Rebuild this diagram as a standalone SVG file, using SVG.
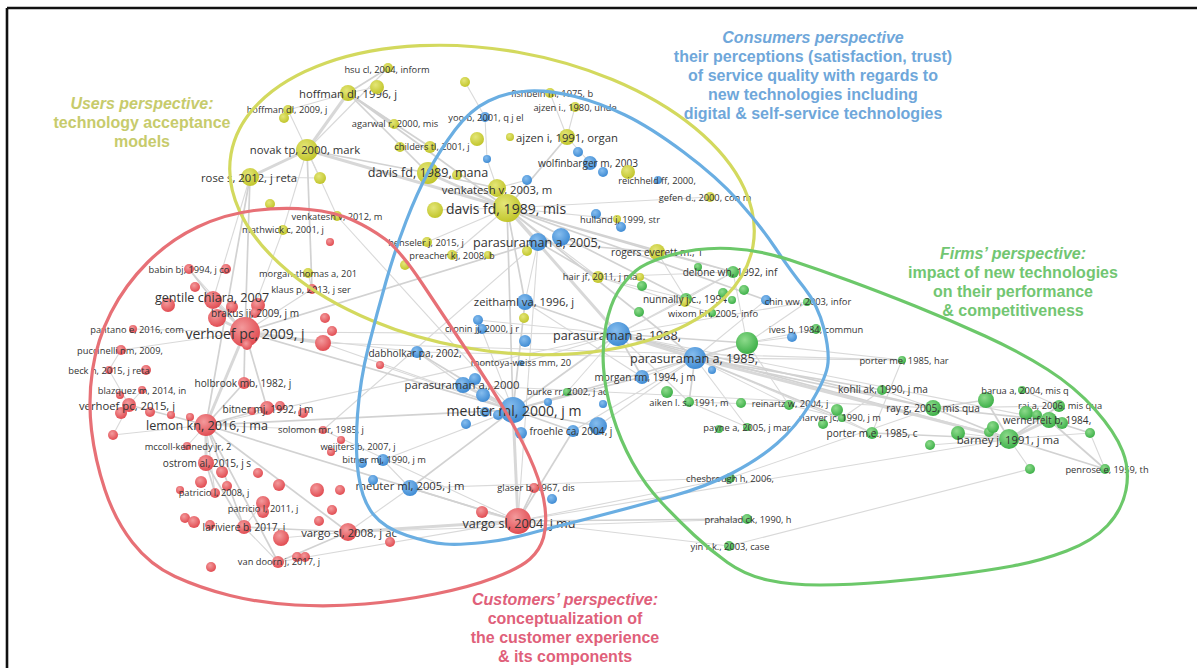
<svg xmlns="http://www.w3.org/2000/svg" width="1200" height="668" viewBox="0 0 1200 668">
<defs>
<radialGradient id="gR" cx="0.4" cy="0.35" r="0.7"><stop offset="0" stop-color="#f39a9c"/><stop offset="1" stop-color="#e0474d"/></radialGradient>
<radialGradient id="gB" cx="0.4" cy="0.35" r="0.7"><stop offset="0" stop-color="#86bdee"/><stop offset="1" stop-color="#3a88d2"/></radialGradient>
<radialGradient id="gG" cx="0.4" cy="0.35" r="0.7"><stop offset="0" stop-color="#8edb8c"/><stop offset="1" stop-color="#38ad44"/></radialGradient>
<radialGradient id="gY" cx="0.4" cy="0.35" r="0.7"><stop offset="0" stop-color="#e4e678"/><stop offset="1" stop-color="#bfc326"/></radialGradient>
<style>
.e{stroke:#d9d9d9;stroke-width:1.1}
.e2{stroke:#d2d2d2;stroke-width:1.7}
.e3{stroke:#d8d8d8;stroke-width:3}
.R{fill:url(#gR)}.B{fill:url(#gB)}.G{fill:url(#gG)}.Y{fill:url(#gY)}
text.l{font-family:"Open Sans","DejaVu Sans",sans-serif;fill:#333;text-anchor:middle;dominant-baseline:central}
.t9{font-size:9.3px}.t10{font-size:10.1px}.t11{font-size:11.3px}.t12{font-size:12.6px}.t14{font-size:14px}
.hd{font-family:"Liberation Sans",Arial,sans-serif;font-weight:bold;font-size:16px;text-anchor:middle}
.it{font-style:italic}
.cl{fill:none;stroke-width:3.2}
</style>
</defs>
<rect width="1200" height="668" fill="#fff"/>
<g id="frame" stroke="#111" stroke-width="2.6">
<line x1="7" y1="8" x2="1197" y2="8"/>
<line x1="7" y1="8" x2="7" y2="668"/>
</g>
<g id="connectors">
<g class="e">
<line x1="567" y1="137" x2="575" y2="107"/><line x1="567" y1="137" x2="550" y2="93"/><line x1="567" y1="137" x2="590" y2="163"/>
<line x1="497" y1="188" x2="527" y2="180"/><line x1="507" y1="208" x2="617" y2="219"/><line x1="507" y1="208" x2="710" y2="197"/>
<line x1="507" y1="208" x2="452" y2="255"/><line x1="507" y1="208" x2="427" y2="242"/><line x1="507" y1="208" x2="435" y2="210"/>
<line x1="507" y1="208" x2="598" y2="277"/><line x1="465" y1="82" x2="485" y2="117"/><line x1="485" y1="117" x2="487" y2="159"/>
<line x1="487" y1="159" x2="497" y2="188"/><line x1="348" y1="93" x2="377" y2="87"/><line x1="348" y1="93" x2="288" y2="110"/>
<line x1="307" y1="150" x2="288" y2="110"/><line x1="307" y1="150" x2="283" y2="230"/><line x1="307" y1="150" x2="320" y2="178"/>
<line x1="307" y1="150" x2="337" y2="216"/><line x1="307" y1="150" x2="388" y2="68"/><line x1="250" y1="177" x2="320" y2="178"/>
<line x1="250" y1="177" x2="213" y2="300"/><line x1="308" y1="273" x2="312" y2="289"/><line x1="283" y1="230" x2="245" y2="332"/>
<line x1="337" y1="216" x2="513" y2="410"/><line x1="245" y1="332" x2="133" y2="329"/><line x1="245" y1="332" x2="121" y2="350"/>
<line x1="245" y1="332" x2="189" y2="269"/><line x1="245" y1="332" x2="417" y2="352"/><line x1="245" y1="332" x2="312" y2="289"/>
<line x1="245" y1="332" x2="618" y2="334"/><line x1="129" y1="405" x2="121" y2="413"/><line x1="129" y1="405" x2="109" y2="370"/>
<line x1="129" y1="405" x2="142" y2="390"/><line x1="129" y1="405" x2="113" y2="435"/><line x1="121" y1="350" x2="109" y2="370"/>
<line x1="206" y1="425" x2="187" y2="446"/><line x1="206" y1="425" x2="215" y2="493"/><line x1="206" y1="425" x2="113" y2="435"/>
<line x1="206" y1="425" x2="618" y2="334"/><line x1="206" y1="425" x2="323" y2="430"/><line x1="244" y1="527" x2="278" y2="562"/>
<line x1="244" y1="527" x2="263" y2="503"/><line x1="278" y1="562" x2="518" y2="521"/><line x1="348" y1="532" x2="281" y2="538"/>
<line x1="348" y1="532" x2="410" y2="488"/><line x1="348" y1="532" x2="747" y2="519"/><line x1="410" y1="488" x2="383" y2="460"/>
<line x1="410" y1="488" x2="730" y2="478"/><line x1="518" y1="521" x2="729" y2="546"/><line x1="518" y1="521" x2="730" y2="478"/>
<line x1="518" y1="521" x2="482" y2="512"/><line x1="518" y1="521" x2="1009" y2="439"/><line x1="518" y1="521" x2="538" y2="242"/>
<line x1="518" y1="521" x2="323" y2="430"/><line x1="463" y1="385" x2="933" y2="408"/><line x1="463" y1="385" x2="417" y2="352"/>
<line x1="417" y1="352" x2="695" y2="358"/><line x1="323" y1="343" x2="902" y2="360"/><line x1="380" y1="365" x2="513" y2="410"/>
<line x1="323" y1="343" x2="513" y2="410"/><line x1="323" y1="430" x2="538" y2="242"/><line x1="383" y1="460" x2="513" y2="410"/>
<line x1="478" y1="320" x2="513" y2="410"/><line x1="478" y1="320" x2="618" y2="334"/><line x1="525" y1="302" x2="538" y2="242"/>
<line x1="525" y1="302" x2="642" y2="377"/><line x1="521" y1="363" x2="618" y2="334"/><line x1="567" y1="392" x2="618" y2="334"/>
<line x1="573" y1="431" x2="695" y2="358"/><line x1="598" y1="426" x2="695" y2="358"/><line x1="642" y1="377" x2="695" y2="358"/>
<line x1="618" y1="334" x2="733" y2="272"/><line x1="618" y1="334" x2="686" y2="299"/><line x1="618" y1="334" x2="689" y2="402"/>
<line x1="618" y1="334" x2="1049" y2="420"/><line x1="618" y1="334" x2="807" y2="302"/><line x1="657" y1="252" x2="733" y2="272"/>
<line x1="657" y1="252" x2="686" y2="299"/><line x1="598" y1="277" x2="686" y2="299"/><line x1="598" y1="277" x2="733" y2="272"/>
<line x1="598" y1="277" x2="712" y2="313"/><line x1="686" y1="299" x2="733" y2="272"/><line x1="747" y1="343" x2="816" y2="329"/>
<line x1="747" y1="343" x2="792" y2="337"/><line x1="747" y1="343" x2="902" y2="360"/><line x1="747" y1="343" x2="789" y2="405"/>
<line x1="747" y1="343" x2="733" y2="272"/><line x1="747" y1="343" x2="807" y2="302"/><line x1="695" y1="358" x2="902" y2="360"/>
<line x1="695" y1="358" x2="789" y2="405"/><line x1="695" y1="358" x2="747" y2="427"/><line x1="695" y1="358" x2="872" y2="433"/>
<line x1="902" y1="360" x2="872" y2="433"/><line x1="872" y1="433" x2="842" y2="418"/><line x1="933" y1="408" x2="1059" y2="406"/>
<line x1="933" y1="408" x2="882" y2="390"/><line x1="1009" y1="439" x2="1090" y2="433"/><line x1="1009" y1="439" x2="930" y2="445"/>
<line x1="1009" y1="439" x2="958" y2="433"/><line x1="1009" y1="439" x2="1030" y2="469"/><line x1="1030" y1="469" x2="729" y2="546"/>
<line x1="1105" y1="469" x2="1090" y2="433"/><line x1="1059" y1="406" x2="1022" y2="390"/><line x1="689" y1="402" x2="789" y2="405"/>
<line x1="689" y1="402" x2="747" y2="427"/><line x1="882" y1="390" x2="842" y2="418"/><line x1="789" y1="405" x2="842" y2="418"/>
<line x1="730" y1="478" x2="933" y2="408"/><line x1="766" y1="300" x2="695" y2="358"/>
</g>
<g class="e2">
<line x1="507" y1="208" x2="567" y2="137"/><line x1="507" y1="208" x2="348" y2="93"/><line x1="507" y1="208" x2="657" y2="252"/>
<line x1="507" y1="208" x2="733" y2="272"/><line x1="507" y1="208" x2="686" y2="299"/><line x1="507" y1="208" x2="766" y2="300"/>
<line x1="507" y1="208" x2="695" y2="358"/><line x1="507" y1="208" x2="513" y2="410"/><line x1="507" y1="208" x2="525" y2="302"/>
<line x1="428" y1="173" x2="307" y2="150"/><line x1="428" y1="173" x2="348" y2="93"/><line x1="428" y1="173" x2="497" y2="188"/>
<line x1="348" y1="93" x2="388" y2="68"/><line x1="348" y1="93" x2="394" y2="124"/><line x1="348" y1="93" x2="430" y2="147"/>
<line x1="307" y1="150" x2="312" y2="289"/><line x1="250" y1="177" x2="245" y2="332"/><line x1="250" y1="177" x2="206" y2="425"/>
<line x1="245" y1="332" x2="244" y2="383"/><line x1="245" y1="332" x2="267" y2="408"/><line x1="245" y1="332" x2="538" y2="242"/>
<line x1="245" y1="332" x2="513" y2="410"/><line x1="206" y1="425" x2="129" y2="405"/><line x1="206" y1="425" x2="267" y2="408"/>
<line x1="206" y1="425" x2="244" y2="527"/><line x1="206" y1="425" x2="278" y2="562"/><line x1="206" y1="425" x2="348" y2="532"/>
<line x1="206" y1="425" x2="513" y2="410"/><line x1="206" y1="425" x2="518" y2="521"/><line x1="206" y1="425" x2="244" y2="383"/>
<line x1="518" y1="521" x2="534" y2="488"/><line x1="518" y1="521" x2="410" y2="488"/><line x1="518" y1="521" x2="747" y2="519"/>
<line x1="518" y1="521" x2="573" y2="431"/><line x1="513" y1="410" x2="573" y2="431"/><line x1="513" y1="410" x2="598" y2="426"/>
<line x1="513" y1="410" x2="618" y2="334"/><line x1="513" y1="410" x2="695" y2="358"/><line x1="513" y1="410" x2="410" y2="488"/>
<line x1="513" y1="410" x2="417" y2="352"/><line x1="513" y1="410" x2="525" y2="302"/><line x1="513" y1="410" x2="642" y2="377"/>
<line x1="618" y1="334" x2="525" y2="302"/><line x1="618" y1="334" x2="642" y2="377"/><line x1="618" y1="334" x2="747" y2="343"/>
<line x1="618" y1="334" x2="1009" y2="439"/><line x1="618" y1="334" x2="933" y2="408"/><line x1="695" y1="358" x2="747" y2="343"/>
<line x1="695" y1="358" x2="933" y2="408"/><line x1="695" y1="358" x2="882" y2="390"/><line x1="695" y1="358" x2="842" y2="418"/>
<line x1="695" y1="358" x2="689" y2="402"/><line x1="1009" y1="439" x2="1059" y2="406"/><line x1="1009" y1="439" x2="986" y2="400"/>
<line x1="1009" y1="439" x2="1105" y2="469"/><line x1="1009" y1="439" x2="933" y2="408"/><line x1="1009" y1="439" x2="872" y2="433"/>
<line x1="933" y1="408" x2="986" y2="400"/><line x1="933" y1="408" x2="1049" y2="420"/><line x1="1049" y1="420" x2="1105" y2="469"/>
<line x1="1049" y1="420" x2="1090" y2="433"/><line x1="348" y1="532" x2="278" y2="562"/><line x1="348" y1="532" x2="244" y2="527"/>
<line x1="206" y1="463" x2="215" y2="493"/><line x1="206" y1="463" x2="244" y2="527"/><line x1="213" y1="300" x2="189" y2="269"/>
<line x1="538" y1="242" x2="598" y2="277"/><line x1="538" y1="242" x2="657" y2="252"/>
</g>
<g class="e3">
<line x1="507" y1="208" x2="428" y2="173"/><line x1="507" y1="208" x2="497" y2="188"/><line x1="507" y1="208" x2="538" y2="242"/>
<line x1="507" y1="208" x2="307" y2="150"/><line x1="307" y1="150" x2="348" y2="93"/><line x1="307" y1="150" x2="250" y2="177"/>
<line x1="245" y1="332" x2="206" y2="425"/><line x1="245" y1="332" x2="213" y2="300"/><line x1="245" y1="332" x2="217" y2="318"/>
<line x1="206" y1="425" x2="206" y2="463"/><line x1="513" y1="410" x2="463" y2="385"/><line x1="513" y1="410" x2="518" y2="521"/>
<line x1="618" y1="334" x2="695" y2="358"/><line x1="695" y1="358" x2="1009" y2="439"/><line x1="1009" y1="439" x2="1049" y2="420"/>
<line x1="518" y1="521" x2="348" y2="532"/><line x1="245" y1="332" x2="323" y2="343"/><line x1="618" y1="334" x2="507" y2="208"/>
</g>
</g>
<g id="nodes">
<g id="n-hsu"><circle class="Y" cx="388" cy="68" r="5"/><text class="l t9" x="387" y="69">hsu cl, 2004, inform</text></g>
<g id="n-hoffman96"><circle class="Y" cx="348" cy="93" r="8"/><text class="l t11" x="348" y="93">hoffman dl, 1996, j</text></g>
<g id="n-y3"><circle class="Y" cx="377" cy="87" r="7"/></g>
<g id="n-hoffman09"><circle class="Y" cx="288" cy="110" r="5"/><circle class="Y" cx="284" cy="118" r="5"/><text class="l t9" x="287" y="109">hoffman dl, 2009, j</text></g>
<g id="n-y6"><circle class="Y" cx="465" cy="82" r="5"/></g>
<g id="n-agarwal"><circle class="Y" cx="394" cy="124" r="5"/><text class="l t9" x="395" y="123">agarwal r, 2000, mis</text></g>
<g id="n-novak"><circle class="Y" cx="307" cy="150" r="11"/><text class="l t11" x="305" y="149">novak tp, 2000, mark</text></g>
<g id="n-y10"><circle class="Y" cx="477" cy="139" r="7"/></g>
<g id="n-childers"><circle class="Y" cx="400" cy="147" r="5"/><circle class="Y" cx="430" cy="147" r="6"/><text class="l t9" x="432" y="146">childers tl, 2001, j</text></g>
<g id="n-rose"><circle class="Y" cx="250" cy="177" r="9"/><text class="l t11" x="249" y="177">rose s, 2012, j reta</text></g>
<g id="n-y13"><circle class="Y" cx="320" cy="178" r="6"/></g>
<g id="n-davismana"><circle class="Y" cx="428" cy="173" r="11"/><circle class="Y" cx="457" cy="175" r="5"/><text class="l t12" x="428" y="172">davis fd, 1989, mana</text></g>
<g id="n-b2"><circle class="B" cx="487" cy="159" r="4"/></g>
<g id="n-b3"><circle class="B" cx="527" cy="180" r="5"/></g>
<g id="n-venkatesh03"><circle class="Y" cx="497" cy="188" r="9"/><text class="l t11" x="497" y="189">venkatesh v, 2003, m</text></g>
<g id="n-y18"><circle class="Y" cx="435" cy="210" r="8"/></g>
<g id="n-davismis"><circle class="Y" cx="507" cy="208" r="14"/><text class="l t14" x="506" y="208">davis fd, 1989, mis</text></g>
<g id="n-ajzen91"><circle class="Y" cx="510" cy="137" r="4"/><circle class="Y" cx="567" cy="137" r="8"/><text class="l t11" x="567" y="137">ajzen i, 1991, organ</text></g>
<g id="n-yoo"><circle class="B" cx="485" cy="117" r="5"/><text class="l t9" x="486" y="117">yoo b, 2001, q j el</text></g>
<g id="n-fishbein"><circle class="Y" cx="550" cy="93" r="5"/><text class="l t9" x="552" y="93">fishbein m, 1975, b</text></g>
<g id="n-ajzen80"><circle class="Y" cx="575" cy="107" r="5"/><text class="l t9" x="575" y="107">ajzen i., 1980, unde</text></g>
<g id="n-b4"><circle class="B" cx="578" cy="152" r="5"/></g>
<g id="n-wolfinbarger"><circle class="B" cx="590" cy="163" r="7"/><circle class="B" cx="603" cy="172" r="5"/><text class="l t10" x="588" y="163">wolfinbarger m, 2003</text></g>
<g id="n-y23"><circle class="Y" cx="628" cy="172" r="7"/></g>
<g id="n-reichheld"><circle class="B" cx="658" cy="180" r="4"/><text class="l t9" x="657" y="180">reichheld ff, 2000,</text></g>
<g id="n-gefen"><circle class="Y" cx="710" cy="197" r="5"/><text class="l t9" x="705" y="197">gefen d., 2000, con m</text></g>
<g id="n-hulland"><circle class="B" cx="596" cy="214" r="5"/><circle class="B" cx="621" cy="227" r="5"/><circle class="Y" cx="617" cy="219" r="4"/><text class="l t9" x="620" y="219">hulland j, 1999, str</text></g>
<g id="n-venkatesh12"><circle class="Y" cx="270" cy="204" r="5"/><circle class="Y" cx="337" cy="216" r="5"/><text class="l t9" x="337" y="216">venkatesh v, 2012, m</text></g>
<g id="n-mathwick"><circle class="Y" cx="283" cy="230" r="5"/><text class="l t9" x="283" y="229">mathwick c, 2001, j</text></g>
<g id="n-r1"><circle class="R" cx="330" cy="242" r="4"/></g>
<g id="n-henseler"><circle class="Y" cx="427" cy="242" r="5"/><text class="l t9" x="426" y="242">henseler j, 2015, j</text></g>
<g id="n-preacher"><circle class="Y" cx="452" cy="255" r="5"/><circle class="Y" cx="488" cy="255" r="4"/><text class="l t9" x="452" y="255">preacher kj, 2008, b</text></g>
<g id="n-y29"><circle class="Y" cx="405" cy="265" r="5"/></g>
<g id="n-y30"><circle class="Y" cx="527" cy="251" r="5"/></g>
<g id="n-parasuraman05"><circle class="B" cx="538" cy="242" r="9"/><circle class="B" cx="561" cy="237" r="9"/><text class="l t12" x="537" y="242">parasuraman a, 2005,</text></g>
<g id="n-rogers"><circle class="Y" cx="657" cy="252" r="8"/><text class="l t10" x="657" y="252">rogers everett m., 1</text></g>
<g id="n-hair"><circle class="Y" cx="598" cy="277" r="6"/><circle class="Y" cx="640" cy="277" r="4"/><text class="l t9" x="600" y="276">hair jf, 2011, j ma</text></g>
<g id="n-babin"><circle class="R" cx="189" cy="269" r="5"/><circle class="R" cx="226" cy="269" r="5"/><text class="l t9" x="189" y="269">babin bj, 1994, j co</text></g>
<g id="n-morganthomas"><circle class="Y" cx="308" cy="273" r="5"/><text class="l t9" x="308" y="273">morgan-thomas a, 201</text></g>
<g id="n-klaus"><circle class="R" cx="312" cy="289" r="5"/><text class="l t9" x="311" y="289">klaus p, 2013, j ser</text></g>
<g id="n-gentile"><circle class="R" cx="195" cy="287" r="5"/><circle class="R" cx="168" cy="305" r="7"/><circle class="R" cx="213" cy="300" r="9"/><circle class="R" cx="232" cy="307" r="6"/><circle class="R" cx="258" cy="305" r="7"/><text class="l t12" x="212" y="297">gentile chiara, 2007</text></g>
<g id="n-brakus"><circle class="R" cx="217" cy="318" r="9"/><circle class="R" cx="255" cy="313" r="5"/><text class="l t10" x="255" y="313">brakus jj, 2009, j m</text></g>
<g id="n-r13"><circle class="R" cx="325" cy="318" r="5"/><circle class="R" cx="332" cy="331" r="5"/></g>
<g id="n-r15"><circle class="R" cx="323" cy="343" r="8"/></g>
<g id="n-verhoef09"><circle class="R" cx="245" cy="332" r="15"/><circle class="R" cx="247" cy="345" r="5"/><text class="l t14" x="245" y="333">verhoef pc, 2009, j</text></g>
<g id="n-pantano"><circle class="R" cx="133" cy="329" r="4"/><text class="l t9" x="137" y="329">pantano e, 2016, com</text></g>
<g id="n-puccinelli"><circle class="R" cx="121" cy="350" r="5"/><text class="l t9" x="120" y="350">puccinelli nm, 2009,</text></g>
<g id="n-beck"><circle class="R" cx="109" cy="370" r="4"/><circle class="R" cx="146" cy="370" r="5"/><text class="l t9" x="109" y="370">beck n, 2015, j reta</text></g>
<g id="n-blazquez"><circle class="R" cx="142" cy="390" r="4"/><circle class="R" cx="120" cy="395" r="4"/><text class="l t9" x="142" y="390">blazquez m, 2014, in</text></g>
<g id="n-holbrook"><circle class="R" cx="244" cy="383" r="6"/><text class="l t10" x="243" y="383">holbrook mb, 1982, j</text></g>
<g id="n-r63"><circle class="R" cx="380" cy="365" r="4"/></g>
<g id="n-verhoef15"><circle class="R" cx="121" cy="413" r="6"/><circle class="R" cx="150" cy="412" r="5"/><circle class="R" cx="129" cy="405" r="7"/><text class="l t11" x="127" y="405">verhoef pc, 2015, j</text></g>
<g id="n-r26"><circle class="R" cx="113" cy="435" r="5"/></g>
<g id="n-r27"><circle class="R" cx="171" cy="415" r="4"/><circle class="R" cx="190" cy="417" r="4"/></g>
<g id="n-lemon"><circle class="R" cx="206" cy="425" r="11"/><text class="l t12" x="207" y="425">lemon kn, 2016, j ma</text></g>
<g id="n-bitner92"><circle class="R" cx="252" cy="411" r="4"/><circle class="R" cx="267" cy="408" r="7"/><circle class="R" cx="280" cy="406" r="5"/><circle class="R" cx="303" cy="413" r="5"/><text class="l t10" x="268" y="409">bitner mj, 1992, j m</text></g>
<g id="n-solomon"><circle class="R" cx="323" cy="430" r="4"/><text class="l t9" x="321" y="429">solomon mr, 1985, j</text></g>
<g id="n-r35"><circle class="R" cx="341" cy="440" r="4"/></g>
<g id="n-weijters"><circle class="R" cx="331" cy="452" r="4"/><text class="l t9" x="358" y="446">weijters b, 2007, j</text></g>
<g id="n-mccoll"><circle class="R" cx="187" cy="446" r="4"/><text class="l t9" x="188" y="446">mccoll-kennedy jr, 2</text></g>
<g id="n-ostrom"><circle class="R" cx="206" cy="463" r="8"/><circle class="R" cx="222" cy="472" r="6"/><text class="l t10" x="207" y="463">ostrom al, 2015, j s</text></g>
<g id="n-r40"><circle class="R" cx="258" cy="473" r="5"/><circle class="R" cx="201" cy="482" r="6"/><circle class="R" cx="227" cy="486" r="5"/><circle class="R" cx="180" cy="490" r="4"/></g>
<g id="n-patricio08"><circle class="R" cx="215" cy="493" r="5"/><text class="l t9" x="214" y="492">patricio l, 2008, j</text></g>
<g id="n-r45"><circle class="R" cx="279" cy="485" r="6"/><circle class="R" cx="317" cy="490" r="7"/><circle class="R" cx="340" cy="490" r="5"/><circle class="R" cx="332" cy="510" r="5"/></g>
<g id="n-patricio11"><circle class="R" cx="263" cy="503" r="7"/><circle class="R" cx="263" cy="512" r="6"/><text class="l t9" x="263" y="508">patricio l, 2011, j</text></g>
<g id="n-r51"><circle class="R" cx="185" cy="518" r="5"/><circle class="R" cx="194" cy="522" r="6"/><circle class="R" cx="210" cy="525" r="5"/><circle class="R" cx="319" cy="521" r="5"/></g>
<g id="n-lariviere"><circle class="R" cx="244" cy="527" r="7"/><text class="l t10" x="244" y="527">lariviere b, 2017, j</text></g>
<g id="n-r57"><circle class="R" cx="281" cy="538" r="8"/></g>
<g id="n-vargo08"><circle class="R" cx="348" cy="532" r="9"/><text class="l t11" x="349" y="532">vargo sl, 2008, j ac</text></g>
<g id="n-r58"><circle class="R" cx="390" cy="542" r="5"/></g>
<g id="n-vandoorn"><circle class="R" cx="278" cy="562" r="6"/><circle class="R" cx="297" cy="557" r="5"/><circle class="R" cx="305" cy="557" r="5"/><text class="l t9" x="279" y="561">van doorn j, 2017, j</text></g>
<g id="n-r62"><circle class="R" cx="211" cy="567" r="5"/></g>
<g id="n-bitner90"><circle class="B" cx="362" cy="463" r="5"/><circle class="B" cx="383" cy="460" r="6"/><text class="l t9" x="384" y="459">bitner mj, 1990, j m</text></g>
<g id="n-b36"><circle class="B" cx="373" cy="480" r="5"/></g>
<g id="n-meuter05"><circle class="B" cx="410" cy="488" r="8"/><text class="l t11" x="410" y="485">meuter ml, 2005, j m</text></g>
<g id="n-zeithaml"><circle class="B" cx="525" cy="302" r="8"/><text class="l t11" x="524" y="301">zeithaml va, 1996, j</text></g>
<g id="n-y38"><circle class="Y" cx="524" cy="318" r="5"/></g>
<g id="n-cronin"><circle class="B" cx="478" cy="320" r="5"/><circle class="B" cx="482" cy="329" r="5"/><text class="l t9" x="482" y="328">cronin jj, 2000, j r</text></g>
<g id="n-b15"><circle class="B" cx="525" cy="341" r="6"/></g>
<g id="n-parasuraman88"><circle class="B" cx="618" cy="334" r="12"/><text class="l t12" x="617" y="335">parasuraman a, 1988,</text></g>
<g id="n-dabholkar"><circle class="B" cx="417" cy="352" r="6"/><text class="l t10" x="415" y="353">dabholkar pa, 2002,</text></g>
<g id="n-montoya"><circle class="B" cx="521" cy="363" r="3"/><text class="l t9" x="521" y="362">montoya-weiss mm, 20</text></g>
<g id="n-parasuraman85"><circle class="B" cx="712" cy="370" r="4"/><circle class="B" cx="695" cy="358" r="11"/><text class="l t12" x="694" y="358">parasuraman a, 1985,</text></g>
<g id="n-parasuraman00"><circle class="B" cx="475" cy="379" r="6"/><circle class="B" cx="463" cy="385" r="8"/><circle class="B" cx="483" cy="395" r="7"/><text class="l t11" x="462" y="384">parasuraman a., 2000</text></g>
<g id="n-morgan"><circle class="B" cx="642" cy="377" r="7"/><text class="l t10" x="645" y="377">morgan rm, 1994, j m</text></g>
<g id="n-b25"><circle class="B" cx="548" cy="402" r="4"/><circle class="B" cx="603" cy="404" r="4"/></g>
<g id="n-burke"><circle class="G" cx="567" cy="392" r="4"/><text class="l t9" x="567" y="391">burke rr, 2002, j ac</text></g>
<g id="n-meuter00"><circle class="B" cx="466" cy="424" r="5"/><circle class="B" cx="485" cy="412" r="5"/><circle class="B" cx="498" cy="415" r="5"/><circle class="B" cx="513" cy="410" r="13"/><text class="l t14" x="514" y="410">meuter ml, 2000, j m</text></g>
<g id="n-b33"><circle class="B" cx="521" cy="433" r="6"/></g>
<g id="n-froehle"><circle class="B" cx="598" cy="426" r="9"/><circle class="B" cx="573" cy="431" r="6"/><text class="l t10" x="571" y="431">froehle ca, 2004, j</text></g>
<g id="n-glaser"><circle class="R" cx="534" cy="488" r="5"/><circle class="B" cx="552" cy="499" r="5"/><text class="l t9" x="536" y="487">glaser b, 1967, dis</text></g>
<g id="n-r65"><circle class="R" cx="482" cy="512" r="6"/></g>
<g id="n-vargo04"><circle class="R" cx="518" cy="521" r="13"/><text class="l t12" x="519" y="523">vargo sl, 2004, j mu</text></g>
<g id="n-g1"><circle class="G" cx="698" cy="267" r="4"/><circle class="G" cx="642" cy="286" r="5"/><circle class="G" cx="639" cy="312" r="5"/></g>
<g id="n-delone"><circle class="G" cx="733" cy="272" r="6"/><text class="l t10" x="730" y="272">delone wh, 1992, inf</text></g>
<g id="n-g4"><circle class="G" cx="723" cy="293" r="5"/><circle class="G" cx="744" cy="290" r="5"/><circle class="G" cx="732" cy="300" r="4"/></g>
<g id="n-nunnally"><circle class="G" cx="686" cy="299" r="6"/><circle class="Y" cx="685" cy="302" r="5"/><text class="l t10" x="685" y="299">nunnally j.c., 1994</text></g>
<g id="n-wixom"><circle class="G" cx="712" cy="313" r="4"/><text class="l t9" x="713" y="313">wixom bh, 2005, info</text></g>
<g id="n-chin"><circle class="B" cx="766" cy="300" r="5"/><circle class="G" cx="807" cy="302" r="4"/><text class="l t9" x="808" y="301">chin ww, 2003, infor</text></g>
<g id="n-ives"><circle class="B" cx="792" cy="337" r="5"/><circle class="G" cx="816" cy="329" r="5"/><text class="l t9" x="816" y="329">ives b, 1984, commun</text></g>
<g id="n-g12"><circle class="G" cx="747" cy="343" r="11"/></g>
<g id="n-porterme"><circle class="G" cx="902" cy="360" r="4"/><text class="l t9" x="904" y="360">porter me, 1985, har</text></g>
<g id="n-g14"><circle class="G" cx="667" cy="392" r="6"/><circle class="G" cx="741" cy="403" r="5"/><circle class="G" cx="719" cy="429" r="4"/></g>
<g id="n-aiken"><circle class="G" cx="689" cy="402" r="5"/><text class="l t9" x="689" y="402">aiken l. s., 1991, m</text></g>
<g id="n-reinartz"><circle class="G" cx="789" cy="405" r="5"/><text class="l t9" x="790" y="403">reinartz w, 2004, j</text></g>
<g id="n-g18"><circle class="G" cx="837" cy="410" r="6"/><circle class="G" cx="823" cy="424" r="5"/></g>
<g id="n-narver"><circle class="G" cx="842" cy="418" r="4"/><text class="l t9" x="840" y="417">narver jc, 1990, j m</text></g>
<g id="n-payne"><circle class="G" cx="747" cy="427" r="4"/><text class="l t9" x="747" y="427">payne a, 2005, j mar</text></g>
<g id="n-kohli"><circle class="G" cx="882" cy="390" r="5"/><text class="l t10" x="883" y="389">kohli ak, 1990, j ma</text></g>
<g id="n-ray"><circle class="G" cx="933" cy="408" r="8"/><text class="l t10" x="933" y="408">ray g, 2005, mis qua</text></g>
<g id="n-porterme2"><circle class="G" cx="872" cy="433" r="6"/><text class="l t10" x="872" y="433">porter m.e., 1985, c</text></g>
<g id="n-g26"><circle class="G" cx="930" cy="445" r="5"/></g>
<g id="n-g35"><circle class="G" cx="958" cy="433" r="7"/><circle class="G" cx="989" cy="432" r="5"/><circle class="G" cx="993" cy="427" r="6"/></g>
<g id="n-barua"><circle class="G" cx="986" cy="400" r="8"/><circle class="G" cx="1022" cy="390" r="4"/><text class="l t9" x="1025" y="390">barua a, 2004, mis q</text></g>
<g id="n-rai"><circle class="G" cx="1059" cy="406" r="6"/><text class="l t9" x="1060" y="405">rai a, 2006, mis qua</text></g>
<g id="n-wernerfelt"><circle class="G" cx="1026" cy="413" r="7"/><circle class="G" cx="1037" cy="415" r="5"/><circle class="G" cx="1049" cy="420" r="8"/><circle class="G" cx="1062" cy="423" r="6"/><text class="l t10" x="1047" y="420">wernerfelt b, 1984,</text></g>
<g id="n-g36"><circle class="G" cx="1090" cy="433" r="5"/></g>
<g id="n-barney"><circle class="G" cx="1009" cy="439" r="10"/><text class="l t11" x="1008" y="439">barney j, 1991, j ma</text></g>
<g id="n-g38"><circle class="G" cx="1030" cy="469" r="5"/></g>
<g id="n-penrose"><circle class="G" cx="1105" cy="469" r="5"/><text class="l t9" x="1107" y="469">penrose e, 1959, th</text></g>
<g id="n-chesbrough"><circle class="G" cx="730" cy="478" r="5"/><text class="l t9" x="730" y="478">chesbrough h, 2006,</text></g>
<g id="n-prahalad"><circle class="G" cx="747" cy="519" r="5"/><text class="l t9" x="748" y="519">prahalad ck, 1990, h</text></g>
<g id="n-yin"><circle class="G" cx="729" cy="546" r="5"/><text class="l t9" x="730" y="546">yin r.k., 2003, case</text></g>
</g>
<g id="clusters">
<ellipse id="c-yellow" class="cl" stroke="#d3d95e" cx="492" cy="200" rx="265" ry="150" transform="rotate(10 492 200)"/>
<path id="c-blue" class="cl" stroke="#6aaee2" stroke-width="3.6" d="M358.5,475 Q355,450 357.5,415 Q360,380 368.5,346.5 Q377,313 386,281.5 Q395,250 406,221.5 Q417,193 428.5,171.5 Q440,150 455,130 Q470,110 488.5,101 Q507,92 528.5,91 Q550,90 575,96.5 Q600,103 625,115 Q650,127 683.5,152 Q717,177 738.5,201 Q760,225 775,247.5 Q790,270 804,287.5 Q818,305 824,329 Q830,353 827.5,366.5 Q825,380 810.5,403.5 Q796,427 777,443.5 Q758,460 731.5,473.5 Q705,487 672.5,496 Q640,505 611.5,512.5 Q583,520 566.5,524 Q550,528 528,534 Q506,540 483,542.5 Q460,545 445,544 Q430,543 407,535.5 Q384,528 373,514 Q362,500 358.5,475 Z"/>
<path id="c-red" class="cl" stroke="#e77076" d="M385,239 Q400,250 422.5,284 Q445,318 467.5,351.5 Q490,385 507.5,415 Q525,445 534,467.5 Q543,490 545,507.5 Q547,525 543.5,537.5 Q540,550 530,559 Q520,568 495,577.5 Q470,587 435,594 Q400,601 365,604 Q330,607 295,605 Q260,603 230,595.5 Q200,588 175,576.5 Q150,565 132.5,542.5 Q115,520 105,490 Q95,460 91.5,430 Q88,400 92.5,370 Q97,340 111,312.5 Q125,285 147.5,262.5 Q170,240 197.5,227 Q225,214 254,210.5 Q283,207 309,209.5 Q335,212 352.5,220 Q370,228 385,239 Z"/>
<path id="c-green" class="cl" stroke="#6cc86a" d="M635.5,271 Q646,262 673,254.5 Q700,247 730,248.5 Q760,250 790,260 Q820,270 850,281 Q880,292 915,306 Q950,320 985,336 Q1020,352 1047.5,369.5 Q1075,387 1095,409.5 Q1115,432 1122.5,451 Q1130,470 1126,490 Q1122,510 1107.5,525.5 Q1093,541 1066.5,551 Q1040,561 1012.5,566 Q985,571 952.5,575 Q920,579 885,582 Q850,585 820,585 Q790,585 767.5,580 Q745,575 727.5,562.5 Q710,550 694,535 Q678,520 661.5,502.5 Q645,485 632.5,462.5 Q620,440 612.5,415 Q605,390 603.5,367.5 Q602,345 606,325 Q610,305 617.5,292.5 Q625,280 635.5,271 Z"/>
</g>
<g id="annotations">
<text class="hd" fill="#c7cb6c" x="142" y="109"><tspan class="it">Users perspective:</tspan><tspan x="142" dy="19">technology acceptance</tspan><tspan x="142" dy="19">models</tspan></text>
<text class="hd" fill="#6fa7da" x="813" y="43"><tspan class="it">Consumers perspective</tspan><tspan x="813" dy="19">their perceptions (satisfaction, trust)</tspan><tspan x="813" dy="19">of service quality with regards to</tspan><tspan x="813" dy="19">new technologies including</tspan><tspan x="813" dy="19">digital &amp; self-service technologies</tspan></text>
<text class="hd" fill="#72c672" x="1013" y="259"><tspan class="it">Firms’ perspective:</tspan><tspan x="1013" dy="19">impact of new technologies</tspan><tspan x="1013" dy="19">on their performance</tspan><tspan x="1013" dy="19">&amp; competitiveness</tspan></text>
<text class="hd" fill="#e0607a" x="565" y="605"><tspan class="it">Customers’ perspective:</tspan><tspan x="565" dy="19">conceptualization of</tspan><tspan x="565" dy="19">the customer experience</tspan><tspan x="565" dy="19">&amp; its components</tspan></text>
</g>
</svg>
